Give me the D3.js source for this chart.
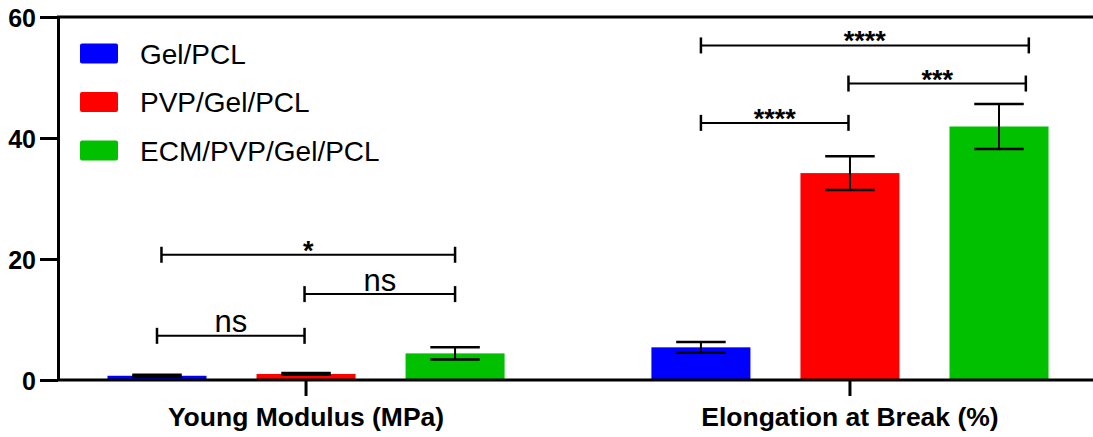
<!DOCTYPE html>
<html><head><meta charset="utf-8">
<script src="https://cdn.jsdelivr.net/npm/d3@7"></script>
<style>body{margin:0;background:#fff}svg{display:block}text{font-family:"Liberation Sans",Arial,sans-serif}</style>
</head><body><svg id="c" width="1093" height="437"></svg>
<script>
const categories = ["Young Modulus (MPa)", "Elongation at Break (%)"];
const series = ["Gel/PCL", "PVP/Gel/PCL", "ECM/PVP/Gel/PCL"];
const colors = ["#0000FF", "#FF0000", "#00C000"];
const means = [[0.7, 1.0, 4.4], [5.4, 34.2, 41.9]];
const errors = [[0.15, 0.15, 1.0], [0.9, 2.8, 3.7]];
const yTicks = [0, 20, 40, 60];
// significance brackets: group, from/to (bar position index), y level, label
const bGroup = [0, 0, 0, 1, 1, 1];
const bFrom = [0.03, 0, 0.99, 0, 0.99, 0];
const bTo = [2.0, 0.99, 2.0, 0.99, 2.18, 2.2];
const bY = [20.7, 7.3, 14.2, 42.5, 49.0, 55.3];
const bLabel = ["*", "ns", "ns", "****", "***", "****"];

const svg = d3.select("#c");
const mLeft = 58, mRight = 1093, mTop = 17, mBottom = 380;
const y = d3.scaleLinear().domain([0, 60]).range([mBottom, mTop]);
const x0 = d3.scaleBand().domain(categories).range([mLeft, 1098]).paddingInner(0.088).paddingOuter(0);
const x1 = d3.scaleBand().domain(series).range([0, x0.bandwidth()]).paddingInner(0.3356).paddingOuter(0.332);
const pos = d3.scaleLinear().domain([0, 1]).range([x1(series[0]) + x1.bandwidth()/2, x1(series[1]) + x1.bandwidth()/2]);

// bars
categories.forEach((c, gi) => {
  const g = svg.append("g").attr("transform", `translate(${x0(c)},0)`);
  series.forEach((s, si) => {
    g.append("rect").attr("x", x1(s)).attr("width", x1.bandwidth())
      .attr("y", y(means[gi][si])).attr("height", y(0) - y(means[gi][si]))
      .attr("fill", colors[si]);
  });
  series.forEach((s, si) => {
    const cx = x1(s) + x1.bandwidth()/2, hi = y(means[gi][si] + errors[gi][si]), lo = y(means[gi][si] - errors[gi][si]);
    const cw = x1.bandwidth()/4;
    g.append("line").attr("x1", cx).attr("x2", cx).attr("y1", hi).attr("y2", lo).attr("stroke", "#000").attr("stroke-width", 2);
    [hi, lo].forEach(v => g.append("line").attr("x1", cx - cw).attr("x2", cx + cw).attr("y1", v).attr("y2", v).attr("stroke", "#000").attr("stroke-width", 2.5));
  });
});

// axes
const yAxis = svg.append("g").attr("transform", `translate(${mLeft},0)`)
  .call(d3.axisLeft(y).tickValues(yTicks).tickSize(18).tickPadding(4).tickSizeOuter(0));
yAxis.select(".domain").attr("stroke-width", 3);
yAxis.selectAll(".tick line").attr("stroke-width", 3);
yAxis.selectAll("text").attr("font-size", 25).attr("font-weight", "bold").attr("fill", "#000").attr("dy", "0.38em");

const xAxis = svg.append("g").attr("transform", `translate(0,${mBottom})`)
  .call(d3.axisBottom(x0).tickSize(16).tickSizeOuter(0));
xAxis.select(".domain").attr("d", `M${mLeft - 1},0H${mRight}`).attr("stroke-width", 3);
xAxis.selectAll(".tick line").attr("stroke-width", 3);
xAxis.selectAll("text").attr("font-size", 26.5).attr("font-weight", "bold").attr("fill", "#000").attr("y", 46).attr("dy", 0);

// top frame line
svg.append("line").attr("x1", mLeft - 1).attr("x2", mRight).attr("y1", y(60)).attr("y2", y(60)).attr("stroke", "#000").attr("stroke-width", 3);

// brackets
bLabel.forEach((lab, i) => {
  const ox = x0(categories[bGroup[i]]);
  const xa = ox + pos(bFrom[i]), xb = ox + pos(bTo[i]), yy = y(bY[i]);
  const g = svg.append("g");
  g.append("line").attr("x1", xa).attr("x2", xb).attr("y1", yy).attr("y2", yy).attr("stroke", "#000").attr("stroke-width", 2);
  [xa, xb].forEach(xx => g.append("line").attr("x1", xx).attr("x2", xx).attr("y1", yy - 8).attr("y2", yy + 8).attr("stroke", "#000").attr("stroke-width", 2.5));
  const isStar = lab.indexOf("*") >= 0;
  g.append("text").attr("x", (xa + xb)/2).attr("y", isStar ? yy + 5 : yy - 3.5)
    .attr("text-anchor", "middle").attr("font-size", isStar ? 27 : 31)
    .attr("font-weight", isStar ? "bold" : "normal").text(lab);
});

// legend
series.forEach((s, si) => {
  const ly = 53.5 + si * 48.5;
  svg.append("rect").attr("x", 80).attr("y", ly - 10).attr("width", 38).attr("height", 20).attr("rx", 2).attr("fill", colors[si]);
  svg.append("text").attr("x", 140).attr("y", ly).attr("dy", "0.36em").attr("font-size", 28).text(s);
});
</script></body></html>
